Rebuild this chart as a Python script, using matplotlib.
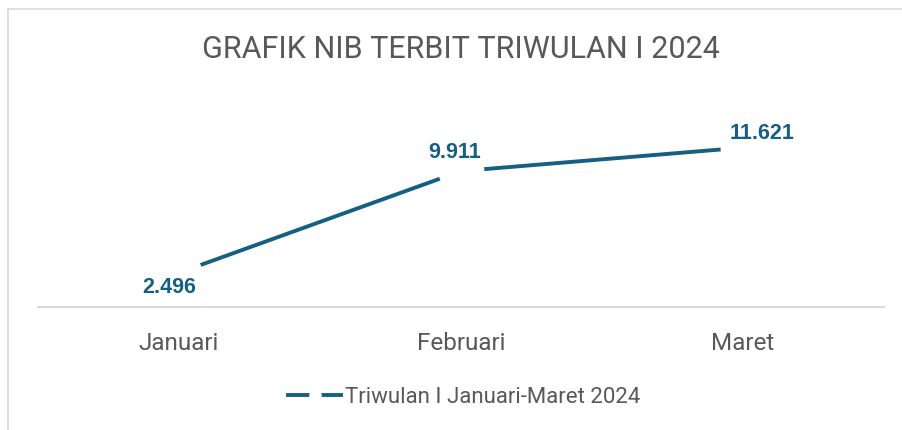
import matplotlib.pyplot as plt
from matplotlib.lines import Line2D
from matplotlib.patches import Rectangle

# data
bulan = ['Januari', 'Februari', 'Maret']
nib_terbit = [2496, 9911, 11621]
label_nilai = ['2.496', '9.911', '11.621']
seri = 'Triwulan I Januari-Maret 2024'

warna = '#156082'
abu = '#595959'

fig = plt.figure(figsize=(9.03, 4.31), dpi=100)
fig.patches.append(Rectangle((8 / 903, -0.1), 1.2, (1 - 10 / 431) + 0.1,
                             transform=fig.transFigure, fill=False,
                             edgecolor='#d9d9d9', lw=1.2))

ax = fig.add_axes([38 / 903, 1 - 308 / 431, (884 - 38) / 903, (308 - 116) / 431])
x = range(len(bulan))
ax.plot(x, nib_terbit, color=warna, lw=2.8, marker='o', markersize=33,
        markerfacecolor='white', markeredgewidth=0, solid_capstyle='butt')

# posisi label data (piksel)
geser = [(-10, -14), (-6, 20), (19, 15)]
for i, (v, t) in enumerate(zip(nib_terbit, label_nilai)):
    ax.annotate(t, (i, v), xytext=geser[i], textcoords='offset pixels',
                ha='center', va='center', color=warna, fontsize=15.5,
                fontweight='bold', family='Liberation Sans')

ax.set_xlim(-0.5, 2.5)
ax.set_ylim(0, 14000)
ax.set_xticks(list(x))
ax.set_xticklabels(bulan, fontsize=17.5, color=abu, family='Roboto')
ax.tick_params(axis='x', length=0, pad=17)
ax.set_yticks([])
for s in ['left', 'right', 'top']:
    ax.spines[s].set_visible(False)
ax.spines['bottom'].set_color('#d9d9d9')
ax.spines['bottom'].set_linewidth(1.5)

fig.text(461 / 903, 1 - 50 / 431, 'GRAFIK NIB TERBIT TRIWULAN I 2024',
         ha='center', va='center', fontsize=22, color=abu, family='Roboto')

h = Line2D([], [], color=warna, lw=2.8, marker='o', markersize=9,
           markerfacecolor='white', markeredgewidth=0)
fig.legend([h], [seri], loc='center', bbox_to_anchor=(464 / 903, 1 - 398 / 431),
           frameon=False, handlelength=2.4, handletextpad=0.15,
           prop={'family': 'Roboto', 'size': 16}, labelcolor=abu)

fig.savefig('out.png', dpi=100)
